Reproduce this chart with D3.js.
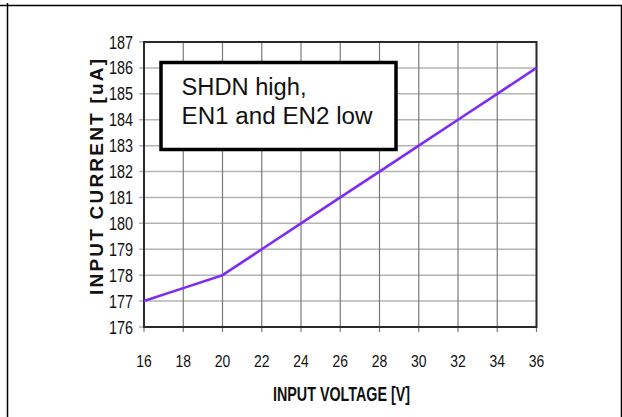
<!DOCTYPE html>
<html>
<head>
<meta charset="utf-8">
<script src="https://cdn.jsdelivr.net/npm/d3@7"></script>
<style>
  body { margin: 0; background: #fff; }
  svg { display: block; }
</style>
</head>
<body>
<div id="chart"></div>
<script>
const WIDTH = 622;
const HEIGHT = 417;

// data
const voltage = [16, 18, 20, 22, 24, 26, 28, 30, 32, 34, 36];
const current = [177, 177.5, 178, 179, 180, 181, 182, 183, 184, 185, 186];
const xTicks = [16, 18, 20, 22, 24, 26, 28, 30, 32, 34, 36];
const yTicks = [176, 177, 178, 179, 180, 181, 182, 183, 184, 185, 186, 187];
const noteLines = ["SHDN high,", "EN1 and EN2 low"];

const marginLeft = 144, marginRight = 85.5, marginTop = 42, marginBottom = 90;

const sans = "'Liberation Sans', Arial, sans-serif";

const svg = d3.select("#chart").append("svg")
    .attr("width", WIDTH)
    .attr("height", HEIGHT);

// page frame
svg.append("path")
    .attr("d", "M0,5.5H621.5V417M7.5,3V417")
    .attr("fill", "none")
    .attr("stroke", "#000")
    .attr("stroke-width", 1.5);

const x = d3.scaleLinear()
    .domain([16, 36])
    .range([marginLeft, WIDTH - marginRight]);

const y = d3.scaleLinear()
    .domain([176, 187])
    .range([HEIGHT - marginBottom, marginTop]);

// horizontal grid
svg.append("g")
  .selectAll("line")
  .data(yTicks)
  .join("line")
    .attr("x1", x(16) - 5).attr("x2", x(36))
    .attr("y1", d => y(d)).attr("y2", d => y(d))
    .attr("stroke", "#b4b4b4")
    .attr("stroke-width", 1.5);

// vertical grid
svg.append("g")
  .selectAll("line")
  .data(xTicks)
  .join("line")
    .attr("x1", d => x(d)).attr("x2", d => x(d))
    .attr("y1", y(187)).attr("y2", y(176) + 5)
    .attr("stroke", "#7a7a7a")
    .attr("stroke-width", 1.2);

// plot frame
svg.append("rect")
    .attr("x", x(16)).attr("y", y(187))
    .attr("width", x(36) - x(16)).attr("height", y(176) - y(187))
    .attr("fill", "none")
    .attr("stroke", "#2a2a2a")
    .attr("stroke-width", 2);

// y tick labels (condensed look via textLength)
svg.append("g")
  .selectAll("text")
  .data(yTicks)
  .join("text")
    .attr("x", x(16) - 11)
    .attr("y", d => y(d) + 6.5)
    .attr("text-anchor", "end")
    .attr("font-family", sans)
    .attr("font-size", 17.5)
    .attr("textLength", 24)
    .attr("lengthAdjust", "spacingAndGlyphs")
    .attr("fill", "#111")
    .text(d => d);

// x tick labels
svg.append("g")
  .selectAll("text")
  .data(xTicks)
  .join("text")
    .attr("x", d => x(d))
    .attr("y", y(176) + 40)
    .attr("text-anchor", "middle")
    .attr("font-family", sans)
    .attr("font-size", 17)
    .attr("textLength", 15.5)
    .attr("lengthAdjust", "spacingAndGlyphs")
    .attr("fill", "#111")
    .text(d => d);

// note box
const note = svg.append("g");
note.append("rect")
    .attr("x", 161).attr("y", 62.5)
    .attr("width", 235).attr("height", 87)
    .attr("fill", "#fff")
    .attr("stroke", "#000")
    .attr("stroke-width", 3.5);
note.selectAll("text")
  .data(noteLines)
  .join("text")
    .attr("x", 181.5)
    .attr("y", (d, i) => 94.5 + i * 29)
    .attr("font-family", sans)
    .attr("font-size", 23)
    .attr("textLength", (d, i) => i ? 191 : 125)
    .attr("lengthAdjust", "spacingAndGlyphs")
    .attr("fill", "#111")
    .text(d => d);

// the curve
const line = d3.line()
    .x((d, i) => x(voltage[i]))
    .y(d => y(d));

svg.append("path")
    .attr("fill", "none")
    .attr("stroke", "#7d2cf6")
    .attr("stroke-width", 2.6)
    .attr("stroke-linejoin", "round")
    .attr("d", line(current));

// axis titles
svg.append("text")
    .attr("x", 341.5)
    .attr("y", 401)
    .attr("text-anchor", "middle")
    .attr("font-family", sans)
    .attr("font-weight", "bold")
    .attr("font-size", 21)
    .attr("textLength", 137)
    .attr("lengthAdjust", "spacingAndGlyphs")
    .attr("fill", "#111")
    .text("INPUT VOLTAGE [V]");

svg.append("text")
    .attr("transform", "translate(103,177) rotate(-90)")
    .attr("text-anchor", "middle")
    .attr("font-family", sans)
    .attr("font-weight", "bold")
    .attr("font-size", 19)
    .attr("textLength", 236)
    .attr("lengthAdjust", "spacing")
    .attr("fill", "#111")
    .text("INPUT CURRENT [uA]");
</script>
</body>
</html>
